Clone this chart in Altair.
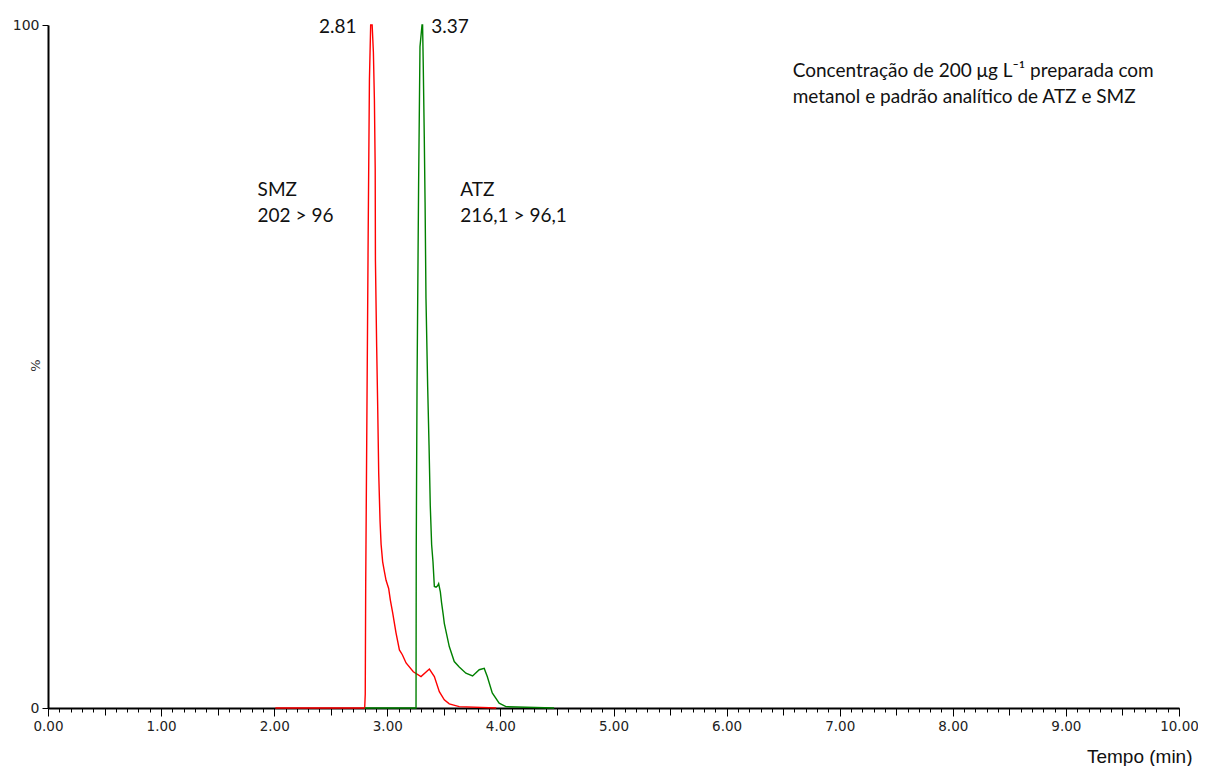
import altair as alt
import pandas as pd

# ---- chromatogram traces (time in min, relative abundance in %) ----
smz_t = [2.01, 2.80, 2.805, 2.809, 2.818, 2.831, 2.842, 2.853, 2.866, 2.877, 2.886, 2.893, 2.895,
         2.906, 2.915, 2.924, 2.936, 2.945, 2.959, 2.974, 2.989, 3.012, 3.027, 3.048, 3.077, 3.107,
         3.133, 3.166, 3.230, 3.298, 3.372, 3.416, 3.460, 3.504, 3.548, 3.636, 3.963]
smz_y = [0, 0, 2, 18, 39, 69.5, 92, 100, 100, 96, 89, 79, 65.6,
         52.9, 44.2, 34.4, 27.3, 24, 21.4, 20, 18.7, 17.5, 15.8, 13.9, 11, 8.5,
         7.8, 6.6, 5.3, 4.6, 5.7, 4.6, 2.4, 1.2, 0.6, 0.2, 0]

atz_t = [2.80, 3.254, 3.256, 3.263, 3.277, 3.289, 3.307, 3.312, 3.318, 3.327, 3.334, 3.342, 3.357,
         3.369, 3.380, 3.392, 3.404, 3.416, 3.431, 3.445, 3.454, 3.469, 3.480, 3.495, 3.504, 3.548,
         3.592, 3.636, 3.695, 3.754, 3.813, 3.857, 3.884, 3.928, 3.989, 4.049, 4.475]
atz_y = [0, 0, 23.6, 47.6, 77, 96.8, 100, 100, 94, 83.5, 74, 60, 47,
         38.5, 29.6, 23.9, 21.4, 17.8, 17.7, 17.9, 18.2, 17, 15.4, 13.6, 12.4, 9,
         6.8, 6, 5.1, 4.7, 5.6, 5.8, 4.6, 2.2, 0.7, 0.2, 0]

series_names = ["SMZ", "ATZ"]
series_colors = ["#ff0000", "#008000"]

# ---- annotations ----
peak_left_text = ["2.81"]
peak_left_t = [2.727]
peak_left_y = [98.8]
peak_right_text = ["3.37"]
peak_right_t = [3.389]
peak_right_y = [98.8]

comp_text = ["SMZ", "202 > 96", "ATZ", "216,1 > 96,1"]
comp_t = [1.853, 1.853, 3.645, 3.645]
comp_y = [75.0, 71.2, 75.0, 71.2]

note_text = ["Concentração de 200 μg L⁻¹ preparada com", "metanol e padrão analítico de ATZ e SMZ"]
note_t = [6.584, 6.584]
note_y = [92.4, 88.6]

x_major = [0, 1, 2, 3, 4, 5, 6, 7, 8, 9, 10]
x_half = [i + 0.5 for i in range(10)]
x_tenth = [round(i * 0.1, 1) for i in range(101)]
y_ticks = [0, 100]

rows = []
for t, v in zip(smz_t, smz_y):
    rows.append({"t": t, "pct": v, "series": "SMZ"})
for t, v in zip(atz_t, atz_y):
    rows.append({"t": t, "pct": v, "series": "ATZ"})
df = pd.DataFrame(rows)

xscale = alt.Scale(domain=[0, 10], nice=False, zero=False)
yscale = alt.Scale(domain=[0, 100], nice=False)
yaxis = alt.Axis(values=y_ticks, tickSize=6, tickColor="black", domainColor="black", domainWidth=2,
                 labelFont="DejaVu Sans", labelFontSize=14, labelColor="#222", labelPadding=3,
                 grid=False, title="%", titleFont="DejaVu Sans", titleFontSize=13,
                 titleFontWeight="normal", titleColor="#333", titleX=-13, titleY=340,
                 titleAngle=270, titleAlign="center", titleBaseline="middle")
yenc = alt.Y("pct:Q", scale=yscale, axis=yaxis)

main_x_axis = alt.Axis(values=x_major, format=".2f", orient="bottom", tickSize=8, tickColor="black",
                       domainColor="black", domainWidth=2, labelFont="DejaVu Sans", labelFontSize=13.5,
                       labelColor="#222", labelPadding=3, grid=False, labelFlush=False,
                       title="Tempo (min)", titleFont="Liberation Sans", titleFontSize=19,
                       titleFontWeight="normal", titleColor="#111", titleAnchor="end",
                       titleAlign="right", titleBaseline="alphabetic", titleX=1144, titleY=54)

lines = alt.Chart(df).mark_line(strokeWidth=1.4).encode(
    x=alt.X("t:Q", scale=xscale, axis=main_x_axis),
    y=yenc,
    color=alt.Color("series:N", scale=alt.Scale(domain=series_names, range=series_colors), legend=None),
)

half_ticks = alt.Chart(df).mark_line(opacity=0).encode(
    x=alt.X("t:Q", scale=xscale, axis=alt.Axis(values=x_half, orient="bottom", tickSize=7, tickColor="black",
                                                labels=False, domain=False, grid=False, title=None)),
    y=yenc,
    detail="series:N",
)
tenth_ticks = alt.Chart(df).mark_line(opacity=0).encode(
    x=alt.X("t:Q", scale=xscale, axis=alt.Axis(values=x_tenth, orient="bottom", tickSize=4, tickColor="black",
                                                labels=False, domain=False, grid=False, title=None)),
    y=yenc,
    detail="series:N",
)


def text_layer(texts, ts, ys, align, size, font):
    d = pd.DataFrame({"t": ts, "pct": ys, "label": texts})
    return alt.Chart(d).mark_text(align=align, baseline="alphabetic", fontSize=size, font=font,
                                  color="#111").encode(
        x=alt.X("t:Q", scale=xscale, axis=None),
        y=yenc,
        text="label:N",
    )


peak_l = text_layer(peak_left_text, peak_left_t, peak_left_y, "right", 19, "Lato")
peak_r = text_layer(peak_right_text, peak_right_t, peak_right_y, "left", 19, "Lato")
comps = text_layer(comp_text, comp_t, comp_y, "left", 19, "Lato")
notes = text_layer(note_text, note_t, note_y, "left", 19, "Lato")

chart = alt.layer(tenth_ticks, half_ticks, lines, peak_l, peak_r, comps, notes).resolve_axis(
    x="independent"
).properties(
    width=1131,
    height=683,
    autosize=alt.AutoSizeParams(type="none"),
    padding={"left": 40, "top": 17, "right": 19, "bottom": 58},
).configure_view(stroke=None)

chart.save("out.html", embed_options={"renderer": "svg", "actions": False})
